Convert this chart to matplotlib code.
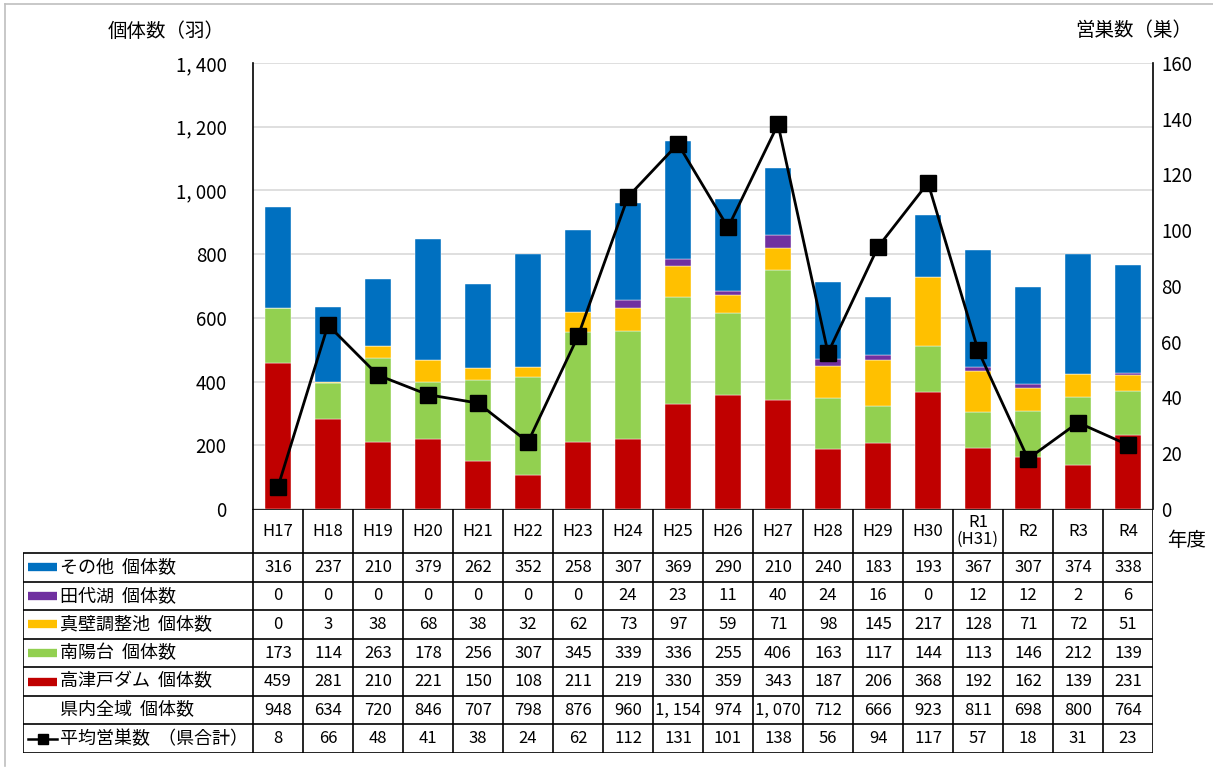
import matplotlib
matplotlib.use("Agg")
import matplotlib.pyplot as plt
from matplotlib.lines import Line2D
import numpy as np

plt.rcParams['font.family'] = ['Noto Sans CJK JP', 'DejaVu Sans']

# data
years		= ['H17','H18','H19','H20','H21','H22','H23','H24','H25','H26',
		   'H27','H28','H29','H30','R1\n(H31)','R2','R3','R4']
other		= [316,237,210,379,262,352,258,307,369,290,210,240,183,193,367,307,374,338]
tashiro		= [0,0,0,0,0,0,0,24,23,11,40,24,16,0,12,12,2,6]
makabe		= [0,3,38,68,38,32,62,73,97,59,71,98,145,217,128,71,72,51]
nanyo		= [173,114,263,178,256,307,345,339,336,255,406,163,117,144,113,146,212,139]
takatsudo	= [459,281,210,221,150,108,211,219,330,359,343,187,206,368,192,162,139,231]
total		= [948,634,720,846,707,798,876,960,1154,974,1070,712,666,923,811,698,800,764]
nests		= [8,66,48,41,38,24,62,112,131,101,138,56,94,117,57,18,31,23]

series_names	= ['その他  個体数','田代湖  個体数','真壁調整池  個体数','南陽台  個体数','高津戸ダム  個体数']
series_vals	= [other, tashiro, makabe, nanyo, takatsudo]
colors		= ['#0070C0','#7030A0','#FFC000','#92D050','#C00000']

W, H = 1213, 767
fig = plt.figure(figsize=(W/100, H/100), dpi=100)

def fx(px): return px / W
def fy(py): return 1 - py / H

# outer frame
fig.add_artist(Line2D([fx(5), fx(5)], [fy(4), fy(766)], color='#bfbfbf', lw=1.2))
fig.add_artist(Line2D([fx(5), fx(1213)], [fy(4), fy(4)], color='#bfbfbf', lw=1.2))

L, R, T, B = 253, 1153, 63, 509
ax = fig.add_axes([fx(L), fy(B), fx(R - L), (B - T) / H])
x = np.arange(len(years))
bottom = np.zeros(len(years))
# stack from bottom: takatsudo, nanyo, makabe, tashiro, other
for vals, c in zip(series_vals[::-1], colors[::-1]):
	ax.bar(x, vals, 0.52, bottom=bottom, color=c, edgecolor='white', linewidth=0.3, zorder=2)
	bottom += np.array(vals)

def fmt(v):
	return '%d' % v if v < 1000 else '%d, %03d' % (v // 1000, v % 1000)

ax.set_xlim(-0.5, len(years) - 0.5)
ax.set_ylim(0, 1400)
ax.set_yticks(range(0, 1401, 200))
ax.set_yticklabels([fmt(v) for v in range(0, 1401, 200)], fontsize=13.5)
ax.tick_params(axis='y', length=0, pad=19)
ax.set_xticks([])
ax.grid(axis='y', color='#d9d9d9', lw=1.2, zorder=0)
ax.set_axisbelow(True)
for s in ['top', 'bottom', 'right']:
	ax.spines[s].set_visible(False)
ax.spines['left'].set_linewidth(1.2)

ax2 = ax.twinx()
ax2.plot(x, nests, color='black', lw=2, marker='s', markersize=12, zorder=5)
ax2.set_ylim(0, 160)
ax2.set_yticks(range(0, 161, 20))
ax2.tick_params(axis='y', length=0, pad=6, labelsize=13.5)
for s in ['top', 'bottom', 'left']:
	ax2.spines[s].set_visible(False)
ax2.spines['right'].set_linewidth(1.2)

fig.text(fx(225), fy(31), '個体数（羽）', fontsize=14, ha='right', va='center')
fig.text(fx(1192), fy(31), '営巣数（巣）', fontsize=14, ha='right', va='center')
fig.text(fx(1167), fy(540), '年度', fontsize=14, ha='left', va='center')

# data table
TL, TB = 23, 753
tab = fig.add_axes([fx(TL), fy(TB), fx(R - TL), (TB - B) / H])
colw = (R - L) / len(years)
lab_w = (L - TL) / colw
tab.set_xlim(-0.5 - lab_w, len(years) - 0.5)
tab.set_ylim(TB, B)
tab.axis('off')

hdr_bot = 553
row_h = (TB - hdr_bot) / 7
lc = dict(color='black', lw=1.2, solid_capstyle='butt')

# header row
tab.plot([-0.5, len(years) - 0.5], [B, B], **lc)
for i in range(len(years) + 1):
	tab.plot([i - 0.5, i - 0.5], [B, hdr_bot], **lc)
for i, yr in enumerate(years):
	tab.text(i, (B + hdr_bot) / 2, yr, ha='center', va='center', fontsize=12, linespacing=1.0)

# body rows
rows = [(n, v, c) for n, v, c in zip(series_names, series_vals, colors)]
rows.append(('県内全域  個体数', total, None))
rows.append(('平均営巣数  （県合計）', nests, 'line'))
x0 = -0.5 - lab_w
for r in range(8):
	yy = hdr_bot + r * row_h
	tab.plot([x0, len(years) - 0.5], [yy, yy], **lc)
tab.plot([x0, x0], [hdr_bot, TB], **lc)
for i in range(len(years) + 1):
	tab.plot([i - 0.5, i - 0.5], [hdr_bot, TB], **lc)

sw0 = x0 + 5 / colw
sw1 = x0 + 34 / colw
for r, (name, vals, c) in enumerate(rows):
	yc = hdr_bot + (r + 0.5) * row_h
	if c == 'line':
		tab.plot([sw0, sw1], [yc, yc], color='black', lw=1.8)
		tab.plot([(sw0 + sw1) / 2], [yc], marker='s', color='black', markersize=7)
	elif c is not None:
		tab.plot([sw0, sw1], [yc, yc], color=c, lw=6, solid_capstyle='butt')
	tab.text(x0 + 37 / colw, yc, name, ha='left', va='center', fontsize=13)
	for i, v in enumerate(vals):
		tab.text(i, yc, fmt(v), ha='center', va='center', fontsize=12)

fig.savefig('out.png', dpi=100)
